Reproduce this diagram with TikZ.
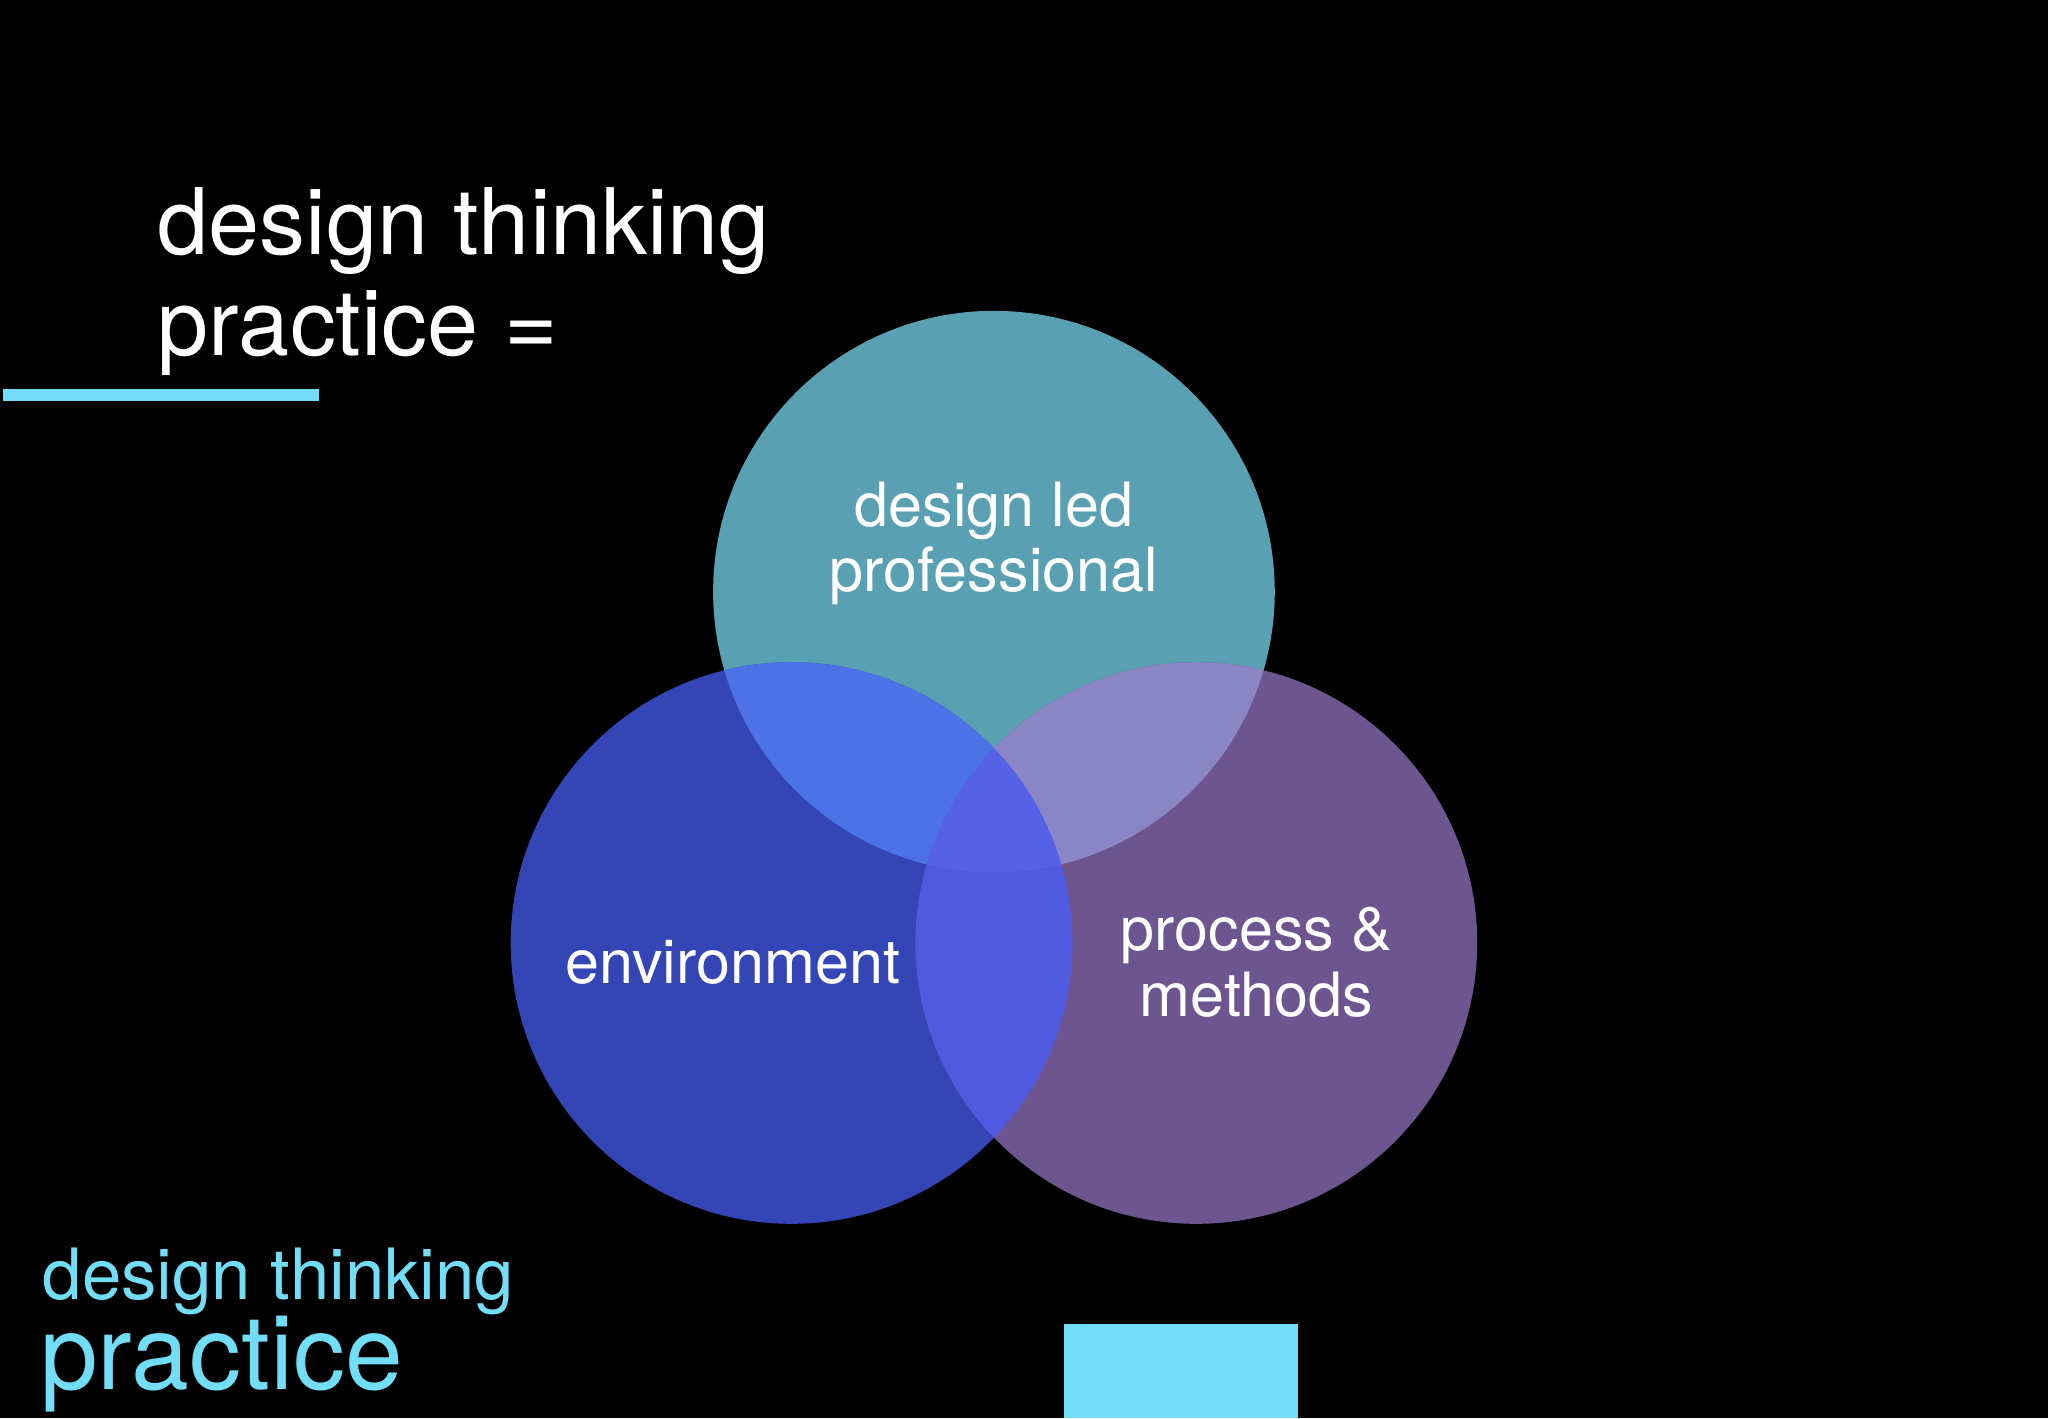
\documentclass[tikz,border=0pt]{standalone}
\usepackage{fontspec}
\setmainfont{TeX Gyre Heros}
\definecolor{cy}{HTML}{72DDF6}
\definecolor{ct}{HTML}{58A0B2}
\definecolor{cl}{HTML}{3445B5}
\definecolor{cr}{HTML}{6D5590}
\definecolor{ctl}{HTML}{4B72E6}
\definecolor{ctr}{HTML}{8A85C5}
\definecolor{clr}{HTML}{505AE0}
\definecolor{cc}{HTML}{5562E8}
\begin{document}
\begin{tikzpicture}[x=0.01cm,y=-0.01cm,
  lbl/.style={text=white,font=\fontsize{13.3}{14}\selectfont,align=center,inner sep=0}]
\fill[black] (0,0) rectangle (1568,1086);
\useasboundingbox (0,0) rectangle (1568,1086);
\def\ct{(761,453) circle (215)}
\def\cl{(606,722) circle (215)}
\def\cR{(916,722) circle (215)}
\fill[ct] \ct; \fill[cl] \cl; \fill[cr] \cR;
\begin{scope}\clip \ct; \fill[ctl] \cl; \fill[ctr] \cR;\end{scope}
\begin{scope}\clip \cl; \fill[clr] \cR;\end{scope}
\begin{scope}\clip \ct; \clip \cl; \fill[cc] \cR;\end{scope}
\node[text=white,font=\fontsize{20}{21}\selectfont,anchor=base west,inner sep=0] (t1) at (120,195) {design thinking};
\node[text=white,font=\fontsize{20}{21}\selectfont,anchor=base west,inner sep=0] (t2) at (120,272) {practice =};
\fill[cy] (2,298) rectangle (244,307);
\node[lbl,anchor=base] (a1) at (761,403) {design led};
\node[lbl,anchor=base] (a2) at (761,453) {professional};
\node[lbl,anchor=base] (b1) at (561,753) {environment};
\node[lbl,anchor=base] (c1) at (962,728) {process \&};
\node[lbl,anchor=base] (c2) at (962,778) {methods};
\node[text=cy,font=\fontsize{15.4}{16}\selectfont,anchor=base west,inner sep=0] (f1) at (32,995) {design thinking};
\node[text=cy,font=\fontsize{22.6}{23}\selectfont,anchor=base west,inner sep=0] (f2) at (30,1064) {practice};
\fill[cy] (815,1014) rectangle (994,1086);
\end{tikzpicture}
\end{document}
